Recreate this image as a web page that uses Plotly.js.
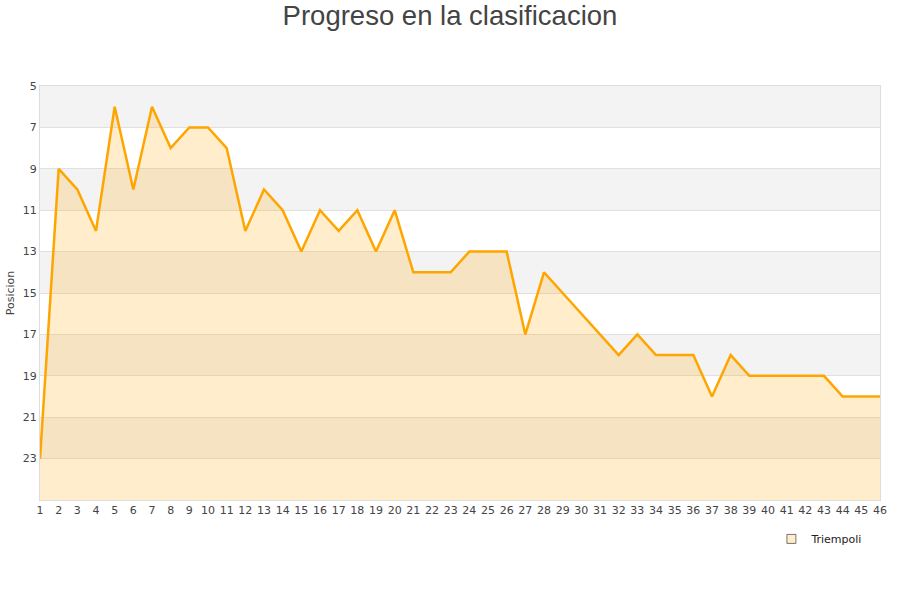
<!DOCTYPE html>
<html>
<head>
<meta charset="utf-8">
<script src="https://cdn.plot.ly/plotly-3.0.1.min.js"></script>
<style>html,body{margin:0;padding:0;background:#fff;}#chart{width:900px;height:600px;}</style>
</head>
<body>
<div id="chart"></div>
<script>
const jornadas = [1,2,3,4,5,6,7,8,9,10,11,12,13,14,15,16,17,18,19,20,21,22,23,24,25,26,27,28,29,30,31,32,33,34,35,36,37,38,39,40,41,42,43,44,45,46];
const posicion = [23,9,10,12,6,10,6,8,7,7,8,12,10,11,13,11,12,11,13,11,14,14,14,13,13,13,17,14,15,16,17,18,17,18,18,18,20,18,19,19,19,19,19,20,20,20];
const yTicks = [5,7,9,11,13,15,17,19,21,23];
const teamName = "Triempoli";
const yBottom = 25;

const baseline = jornadas.map(() => yBottom);

const traces = [
  {x: jornadas, y: baseline, type: 'scatter', mode: 'lines', line: {width: 0}, hoverinfo: 'skip', showlegend: false},
  {x: jornadas, y: posicion, type: 'scatter', mode: 'lines', fill: 'tonexty',
   fillcolor: 'rgba(255,165,0,0.2)', line: {color: '#FFA500', width: 2.5}, showlegend: false, name: teamName},
  {x: [null], y: [null], type: 'scatter', mode: 'markers', name: teamName,
   marker: {symbol: 'square', size: 9, color: '#FEECCB', line: {color: '#555', width: 0.8}}}
];

const shapes = [];
for (let i = 0; i < yTicks.length; i += 2) {
  shapes.push({type: 'rect', xref: 'paper', yref: 'y', x0: 0, x1: 1, y0: yTicks[i], y1: yTicks[i] + 2,
    fillcolor: '#F3F3F3', line: {width: 0}, layer: 'below'});
}

const layout = {
  width: 900, height: 600,
  margin: {l: 40, r: 20, t: 86, b: 100},
  paper_bgcolor: '#fff', plot_bgcolor: '#fff',
  title: {text: 'Progreso en la clasificacion', x: 0.5, xanchor: 'center', y: 0.975, yanchor: 'middle',
    font: {family: 'Liberation Sans, Arial, sans-serif', size: 27.5, color: '#444'}},
  font: {family: 'DejaVu Sans, sans-serif', size: 11, color: '#444'},
  xaxis: {range: [1, 46], tickmode: 'array', tickvals: jornadas, ticktext: jornadas.map(String),
    showgrid: false, zeroline: false, showline: true, linecolor: '#ddd', mirror: true,
    ticks: '', tickfont: {size: 11, color: '#444'}, fixedrange: true},
  yaxis: {range: [yBottom, 5], tickmode: 'array', tickvals: yTicks,
    showgrid: true, gridcolor: '#e0e0e0', gridwidth: 1, zeroline: false,
    showline: true, linecolor: '#ddd', mirror: true, ticks: '', ticklen: 0,
    tickfont: {size: 11, color: '#444'},
    title: {text: 'Posicion', font: {size: 11, color: '#444'}, standoff: 5}},
  shapes: shapes,
  showlegend: true,
  legend: {x: 0.985, xanchor: 'right', y: -0.094, yanchor: 'middle', bgcolor: 'rgba(0,0,0,0)',
    itemwidth: 30, font: {size: 11, color: '#222'}}
};

Plotly.newPlot('chart', traces, layout, {displayModeBar: false, staticPlot: true});
</script>
</body>
</html>
